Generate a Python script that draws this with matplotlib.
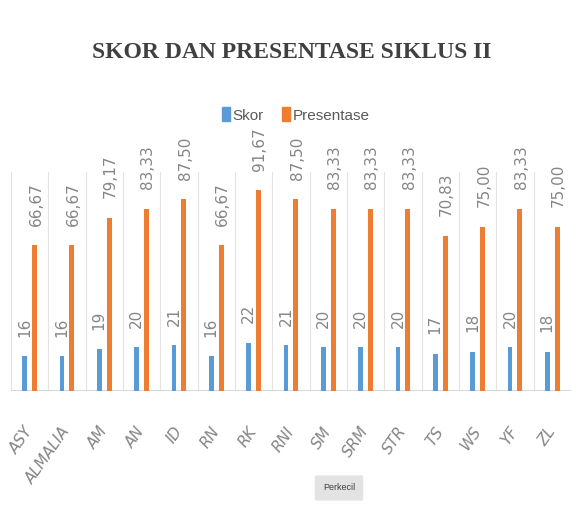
import numpy as np
import matplotlib
matplotlib.use("Agg")
import matplotlib.pyplot as plt
from matplotlib.patches import Patch

# data
names = ["ASY", "ALMALIA", "AM", "AN", "ID", "RN", "RK", "RNI", "SM", "SRM",
         "STR", "TS", "WS", "YF", "ZL"]
skor = [16, 16, 19, 20, 21, 16, 22, 21, 20, 20, 20, 17, 18, 20, 18]
presentase = [66.67, 66.67, 79.17, 83.33, 87.50, 66.67, 91.67, 87.50, 83.33,
              83.33, 83.33, 70.83, 75.00, 83.33, 75.00]

blue = "#5B9BD5"
orange = "#ED7D31"
grey = "#858585"

fig = plt.figure(figsize=(5.83, 5.05), dpi=100)
ax = fig.add_axes([11/583, 1 - 391/505, 560/583, 219/505])

x = np.arange(len(names))
w = 0.13
ax.bar(x - 0.135, skor, width=w, color=blue)
ax.bar(x + 0.13, presentase, width=w, color=orange)

ax.set_xlim(-0.5, len(names) - 0.5)
ax.set_ylim(0, 100)

# grid lines between categories
for b in np.arange(-0.5, len(names), 1.0):
    ax.axvline(b, color="#e3e3e3", lw=0.8, zorder=0)
ax.axhline(0, color="#d0d0d0", lw=1.2, zorder=0)

for s in ax.spines.values():
    s.set_visible(False)
ax.set_yticks([])

# data labels
for xi, v in zip(x, skor):
    ax.annotate(str(v), (xi - 0.135, v), xytext=(0, 14), textcoords="offset points",
                rotation=90, ha="center", va="bottom", fontsize=11, color=grey)
for xi, v in zip(x, presentase):
    ax.annotate(f"{v:.2f}".replace(".", ","), (xi + 0.13, v), xytext=(1, 14),
                textcoords="offset points", rotation=90, ha="center", va="bottom",
                fontsize=11, color=grey)

ax.set_xticks(x)
ax.set_xticklabels(names, rotation=55, ha="right", va="center",
                   rotation_mode="anchor", fontsize=11, color=grey)
for lab in ax.get_xticklabels():
    lab.set_fontstyle("italic")
ax.tick_params(axis="x", length=0, pad=27)

fig.text(0.5, 1 - 52/505, "SKOR DAN PRESENTASE SIKLUS II", ha="center", va="center",
         fontsize=17, fontweight="bold", family="Liberation Serif", color="#404040")

handles = [Patch(color=blue), Patch(color=orange)]
fig.legend(handles, ["Skor", "Presentase"], loc="center",
           bbox_to_anchor=(296/583, 1 - 115/505), ncol=2, frameon=False,
           handlelength=0.5, handleheight=1.0, handletextpad=0.2, columnspacing=1.2,
           prop={"family": "Liberation Sans", "size": 11},
           labelcolor="#595959")

fig.text(339/583, 1 - 488/505, "Perkecil", ha="center", va="center", fontsize=6.5,
         family="Liberation Sans", color="#404040",
         bbox=dict(boxstyle="round,pad=0.9,rounding_size=0.2", fc="#e3e3e3", ec="none"))

fig.savefig("out.png", dpi=100)
